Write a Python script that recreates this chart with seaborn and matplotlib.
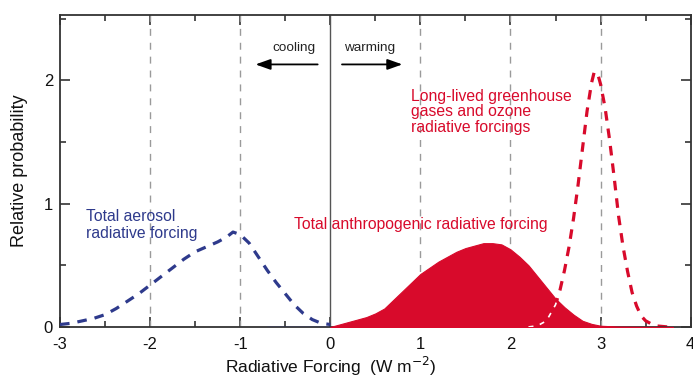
import numpy as np
import seaborn as sns
import matplotlib.pyplot as plt
from matplotlib.ticker import MultipleLocator

# Total aerosol radiative forcing (blue dashed)
aer_x = [-3.0, -2.875, -2.75, -2.625, -2.5, -2.375, -2.25, -2.125, -2.0, -1.875, -1.75,
         -1.625, -1.5, -1.375, -1.25, -1.15, -1.08, -1.0, -0.9, -0.8, -0.7, -0.6, -0.5,
         -0.4, -0.3, -0.2, -0.1, 0.0]
aer_y = [0.02, 0.03, 0.05, 0.07, 0.10, 0.15, 0.21, 0.27, 0.34, 0.41, 0.48,
         0.55, 0.61, 0.65, 0.69, 0.73, 0.77, 0.75, 0.68, 0.57, 0.46, 0.36, 0.27,
         0.18, 0.11, 0.06, 0.03, 0.02]

# Total anthropogenic radiative forcing (red filled)
anth_x = [0.0, 0.1, 0.2, 0.3, 0.4, 0.5, 0.6, 0.7, 0.8, 0.9, 1.0, 1.1, 1.2, 1.3, 1.4, 1.5,
          1.6, 1.7, 1.8, 1.9, 2.0, 2.1, 2.2, 2.3, 2.4, 2.5, 2.6, 2.7, 2.8, 2.9, 3.0,
          3.2, 3.5, 3.8]
anth_y = [0.0, 0.02, 0.04, 0.06, 0.08, 0.11, 0.15, 0.22, 0.29, 0.36, 0.43, 0.48, 0.53,
          0.57, 0.61, 0.64, 0.66, 0.68, 0.68, 0.67, 0.63, 0.57, 0.50, 0.41, 0.32, 0.23,
          0.16, 0.10, 0.05, 0.025, 0.01, 0.003, 0.0, 0.0]

# Long-lived greenhouse gases and ozone (red dashed)
gh_x = [2.2, 2.3, 2.4, 2.5, 2.55, 2.6, 2.65, 2.7, 2.75, 2.8, 2.85, 2.9, 2.93, 2.97, 3.0,
        3.05, 3.1, 3.15, 3.2, 3.25, 3.3, 3.35, 3.4, 3.45, 3.5, 3.6, 3.75]
gh_y = [0.0, 0.01, 0.05, 0.18, 0.30, 0.46, 0.65, 0.88, 1.15, 1.45, 1.75, 1.98, 2.07, 2.05,
        1.97, 1.78, 1.52, 1.22, 0.90, 0.65, 0.45, 0.28, 0.17, 0.09, 0.05, 0.01, 0.0]

x_ticks = [-3, -2, -1, 0, 1, 2, 3, 4]
y_ticks = [0, 1, 2]
grid_x = [-2, -1, 1, 2, 3]

red = "#d80a2b"
navy = "#2e3a8c"
dark = "#333333"

sns.set_style("ticks")
plt.rcParams["font.family"] = ["Liberation Sans", "DejaVu Sans"]

fig = plt.figure(figsize=(6.93, 3.78), dpi=100)
ax = fig.add_axes([0.0866, 0.135, 0.910, 0.825])

# reference lines
for gx in grid_x:
    ax.axvline(gx, color="#9a9a9a", lw=1.0, ls=(0, (5, 5)), zorder=1)
ax.axvline(0, color="#555555", lw=1.0, zorder=1)

# curves
sns.lineplot(x=aer_x, y=aer_y, ax=ax, color=navy, lw=2.3,
             linestyle=(0, (3, 2.5)), zorder=3)
ax.plot([-0.7, 0.0], [0.0, 0.0], color=navy, lw=1.0, zorder=3)

sns.lineplot(x=gh_x, y=gh_y, ax=ax, color=red, lw=2.3,
             linestyle=(0, (3, 2.5)), zorder=2)
poly = ax.fill_between(anth_x, anth_y, color=red, lw=0.8, edgecolor=red, zorder=4)
white = ax.plot(gh_x, gh_y, color="white", lw=1.2, ls=(0, (3, 4)), zorder=5)[0]
white.set_clip_path(poly.get_paths()[0], transform=ax.transData)

# annotations
arrow = dict(arrowstyle="-|>,head_length=0.9,head_width=0.32",
             color="black", lw=1.3, shrinkA=0, shrinkB=0)
ax.annotate("", xy=(-0.83, 2.13), xytext=(-0.14, 2.13), arrowprops=arrow)
ax.annotate("", xy=(0.8, 2.13), xytext=(0.13, 2.13), arrowprops=arrow)
ax.text(-0.4, 2.26, "cooling", fontsize=9.7, ha="center", va="center", color="#222222")
ax.text(0.44, 2.26, "warming", fontsize=9.7, ha="center", va="center", color="#222222")

ax.text(0.9, 1.93, "Long-lived greenhouse\ngases and ozone\nradiative forcings",
        color=red, fontsize=11.3, ha="left", va="top", linespacing=1.02)
ax.text(-2.71, 0.96, "Total aerosol\nradiative forcing",
        color=navy, fontsize=11.3, ha="left", va="top", linespacing=1.22)
ax.text(-0.4, 0.83, "Total anthropogenic radiative forcing",
        color=red, fontsize=11.3, ha="left", va="center")

# axes styling
ax.set_xlim(-3, 4)
ax.set_ylim(0, 2.53)
ax.set_xticks(x_ticks)
ax.set_yticks(y_ticks)
ax.set_xticklabels([str(v) for v in x_ticks])
ax.xaxis.set_minor_locator(MultipleLocator(0.5))
ax.yaxis.set_minor_locator(MultipleLocator(0.5))
ax.tick_params(which="both", direction="in", top=True, right=True,
               color=dark, width=1.2, labelsize=12, labelcolor="#111111")
ax.tick_params(which="major", length=7)
ax.tick_params(which="minor", length=4)
ax.tick_params(axis="x", which="major", pad=7)
ax.tick_params(axis="y", which="major", pad=5)
for s in ax.spines.values():
    s.set_color(dark)
    s.set_linewidth(1.3)

ax.set_xlabel("Radiative Forcing  (W m$^{-2}$)", fontsize=12.5, color="#111111")
ax.xaxis.set_label_coords(0.43, -0.088)
ax.set_ylabel("Relative probability", fontsize=13, color="#111111")
ax.yaxis.set_label_coords(-0.05, 0.5)

fig.savefig("out.png", dpi=100)
